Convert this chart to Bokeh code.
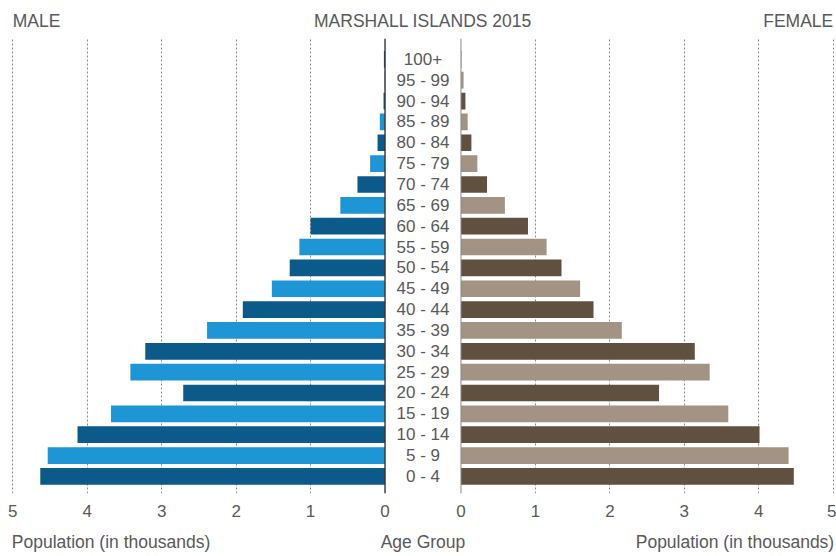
from bokeh.plotting import figure
from bokeh.models import (Range1d, FixedTicker, Grid, Span, LinearAxis,
                          CustomJSTickFormatter, ColumnDataSource)
from bokeh.core.properties import value
from bokeh.embed import file_html
from bokeh.resources import INLINE
import numpy as np

# ---------------- data ----------------
age_groups = ["0 - 4", "5 - 9", "10 - 14", "15 - 19", "20 - 24", "25 - 29", "30 - 34",
              "35 - 39", "40 - 44", "45 - 49", "50 - 54", "55 - 59", "60 - 64", "65 - 69",
              "70 - 74", "75 - 79", "80 - 84", "85 - 89", "90 - 94", "95 - 99", "100+"]
male = [4.63, 4.53, 4.13, 3.68, 2.71, 3.42, 3.22, 2.39, 1.91, 1.52, 1.28, 1.15, 1.00,
        0.60, 0.37, 0.20, 0.10, 0.07, 0.02, 0.005, 0.015]
female = [4.47, 4.40, 4.01, 3.59, 2.66, 3.34, 3.14, 2.16, 1.78, 1.60, 1.35, 1.15, 0.90,
          0.59, 0.35, 0.22, 0.14, 0.09, 0.06, 0.035, 0.005]
x_ticks = [0, 1, 2, 3, 4, 5]
title = "MARSHALL ISLANDS 2015"
male_label = "MALE"
female_label = "FEMALE"
x_title = "Population (in thousands)"
mid_title = "Age Group"

# ---------------- style / layout ----------------
M_DARK, M_LIGHT = "#0b5a8a", "#1e95d4"
F_DARK, F_LIGHT = "#5f5040", "#a39384"
TXT = "#595959"
FONT = "Liberation Sans"
FS = "17px"
FS_T = "17.5px"
GAP = 1.02      # width of the centre column, in thousands
PAD = 0.03
W, H = 836, 556

n = len(age_groups)
src = ColumnDataSource(dict(
    y=np.arange(n),
    age=age_groups,
    male=male,
    female=female,
    mcol=[M_DARK if i % 2 == 0 else M_LIGHT for i in range(n)],
    fcol=[F_DARK if i % 2 == 0 else F_LIGHT for i in range(n)],
))

p = figure(width=W, height=H, output_backend="svg", toolbar_location=None,
           x_range=Range1d(-(5 + GAP + PAD), 5 + PAD),
           y_range=Range1d(-0.82, n),
           x_axis_type=None, y_axis_type=None,
           min_border_left=10, min_border_right=1,
           min_border_top=38, min_border_bottom=63)
p.extra_x_ranges = {"male": Range1d(5 + PAD, -(5 + GAP + PAD))}
p.outline_line_color = None
p.background_fill_color = "white"
p.border_fill_color = "white"

grid_ticks = [t for t in x_ticks if t > 0]
for rn in ("default", "male"):
    p.add_layout(Grid(dimension=0, ticker=FixedTicker(ticks=grid_ticks), x_range_name=rn,
                      grid_line_color="#8c8c8c", grid_line_dash="2 2", grid_line_width=1))

# bars
p.hbar(y="y", left=0, right="male", height=0.8, fill_color="mcol", line_color=None,
       source=src, x_range_name="male")
p.hbar(y="y", left=0, right="female", height=0.8, fill_color="fcol", line_color=None,
       source=src)

# zero lines
p.add_layout(Span(location=0, dimension="height", x_range_name="male",
                  line_color="#333333", line_width=1.4))
p.add_layout(Span(location=0, dimension="height", line_color="#8a8a8a", line_width=1))

# age labels in the centre column
p.text(x=-GAP / 2, y="y", text="age", source=src, text_align="center",
       text_baseline="middle", text_font=value(FONT), text_font_size=FS, text_color=TXT)


def style_axis(ax, standoff, size):
    ax.axis_line_color = None
    ax.major_tick_line_color = None
    ax.minor_tick_line_color = None
    ax.major_tick_out = 0
    ax.major_tick_in = 0
    ax.minor_tick_out = 0
    ax.minor_tick_in = 0
    ax.major_label_text_font = FONT
    ax.major_label_text_font_size = size
    ax.major_label_text_color = TXT
    ax.major_label_standoff = standoff


# numeric axis: both scales on one line
ticks = [-(GAP + v) for v in x_ticks[::-1]] + list(x_ticks)
ax = LinearAxis(ticker=FixedTicker(ticks=ticks),
                formatter=CustomJSTickFormatter(args=dict(gap=GAP), code="""
                    if (tick >= 0) { return Math.round(tick).toString(); }
                    return Math.round(-(tick + gap)).toString();
                """))
style_axis(ax, 11, FS)
p.add_layout(ax, "below")

# axis titles line (below the numbers)
bt_labels = [x_title, mid_title, x_title]
bt_pos = [-(GAP + 3.68), -GAP / 2, 3.68]
ax2 = LinearAxis(ticker=FixedTicker(ticks=bt_pos),
                 formatter=CustomJSTickFormatter(args=dict(labels=bt_labels),
                                                 code="return labels[index];"))
style_axis(ax2, 12, FS_T)
p.add_layout(ax2, "below")

# header line
top_labels = [male_label, title, female_label]
top_pos = [-(GAP + 4.68), -GAP / 2, 4.53]
ax3 = LinearAxis(ticker=FixedTicker(ticks=top_pos),
                 formatter=CustomJSTickFormatter(args=dict(labels=top_labels),
                                                 code="return labels[index];"))
style_axis(ax3, 8, FS_T)
p.add_layout(ax3, "above")

open("out.html", "w").write(file_html(p, INLINE))
